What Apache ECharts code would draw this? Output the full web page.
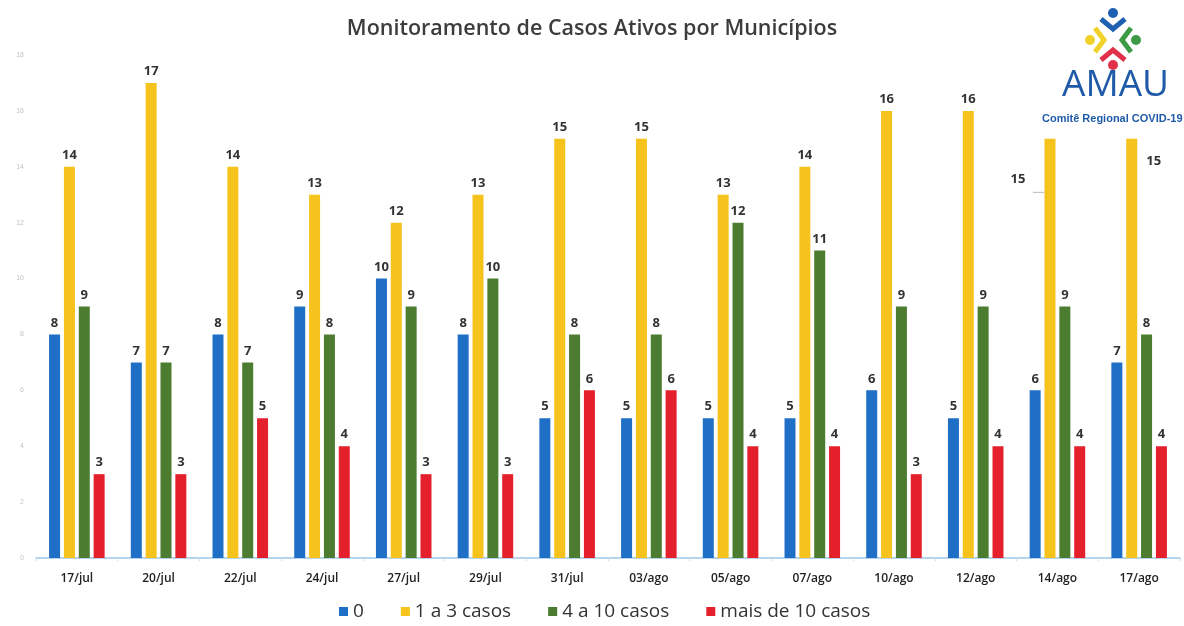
<!DOCTYPE html>
<html><head><meta charset="utf-8">
<script src="https://cdn.jsdelivr.net/npm/echarts@6/dist/echarts.min.js"></script>
<style>html,body{margin:0;padding:0;background:#fff}#c{width:1184px;height:626px}</style>
</head><body><div id="c"></div>
<script>
const categories = ['17/jul','20/jul','22/jul','24/jul','27/jul','29/jul','31/jul','03/ago','05/ago','07/ago','10/ago','12/ago','14/ago','17/ago'];
const serie0 = [8,7,8,9,10,8,5,5,5,5,6,5,6,7];
const serie1a3 = [14,17,14,13,12,13,15,15,13,14,16,16,15,15];
const serie4a10 = [9,7,7,8,9,10,8,8,12,11,9,9,9,8];
const serieMais10 = [3,3,5,4,3,3,6,6,4,4,3,4,4,4];
const seriesNames = ['0','1 a 3 casos','4 a 10 casos','mais de 10 casos'];
const colors = ['#1f6fc6','#f6c21c','#4c7c30','#e4202c'];

const chart = echarts.init(document.getElementById('c'));
const lbl = {show:true, position:'top', distance:5, color:'#333', fontFamily:'Open Sans', fontWeight:'bold', fontSize:13};
function mk(i, data){
  return {name:seriesNames[i], type:'bar', data:data, barWidth:11, barGap:'35%',
    itemStyle:{color:colors[i]}, label:lbl};
}
const yellow = mk(1, serie1a3.map((v,j)=>{
  if (j===12) return {value:v, label:{offset:[-32,52]}, labelLine:{show:true}};
  if (j===13) return {value:v, label:{offset:[22,34]}};
  return v;
}));
yellow.labelLine = {show:false, lineStyle:{color:'#bbb', width:1}};

chart.setOption({
  animation:false,
  color:colors,
  title:{text:'Monitoramento de Casos Ativos por Municípios', left:'center', top:13,
    textStyle:{fontFamily:'Open Sans', fontSize:21.5, fontWeight:600, color:'#3c3c3c'}},
  legend:{bottom:0, left:334, itemWidth:9, itemHeight:9, itemGap:37, icon:'rect',
    textStyle:{fontFamily:'Open Sans', fontSize:19, color:'#333'}},
  grid:{left:36, right:4, top:55, bottom:68},
  xAxis:{type:'category', data:categories,
    axisLine:{lineStyle:{color:'#9cc8e8', width:1.5}},
    axisTick:{show:true, length:3, lineStyle:{color:'#cde0f0'}},
    axisLabel:{color:'#222', fontFamily:'Open Sans', fontSize:12, fontWeight:600, margin:15}},
  yAxis:{type:'value', min:0, max:18, interval:2,
    axisLine:{show:false}, axisTick:{show:false}, splitLine:{show:false},
    axisLabel:{color:'#c4c4c4', fontSize:7, margin:12}},
  series:[mk(0,serie0), yellow, mk(2,serie4a10), mk(3,serieMais10)],
  graphic:[
    {type:'group', left:1085, top:8, children:[
      {type:'circle', shape:{cx:32,cy:6,r:5}, style:{fill:'#1f5fb0'}},
      {type:'polyline', shape:{points:[[20,12],[32,22],[44,12]]}, style:{stroke:'#1f5fb0', lineWidth:5, fill:null}},
      {type:'circle', shape:{cx:9,cy:33,r:5}, style:{fill:'#f2d12a'}},
      {type:'polyline', shape:{points:[[14,21],[23,33],[14,45]]}, style:{stroke:'#f2d12a', lineWidth:5, fill:null}},
      {type:'circle', shape:{cx:55,cy:33,r:5}, style:{fill:'#3d9a45'}},
      {type:'polyline', shape:{points:[[50,21],[41,33],[50,45]]}, style:{stroke:'#3d9a45', lineWidth:5, fill:null}},
      {type:'circle', shape:{cx:32,cy:58,r:5}, style:{fill:'#e0304a'}},
      {type:'polyline', shape:{points:[[20,53],[32,43],[44,53]]}, style:{stroke:'#e0304a', lineWidth:5, fill:null}}
    ]},
    {type:'text', left:1062, top:67, style:{text:'AMAU', fill:'#1f5aa8', font:'500 37px "Open Sans"'}},
    {type:'text', left:1042, top:113, style:{text:'Comitê Regional COVID-19', fill:'#1f5aa8', font:'bold 11px "Liberation Sans"'}}
  ]
});
</script></body></html>
